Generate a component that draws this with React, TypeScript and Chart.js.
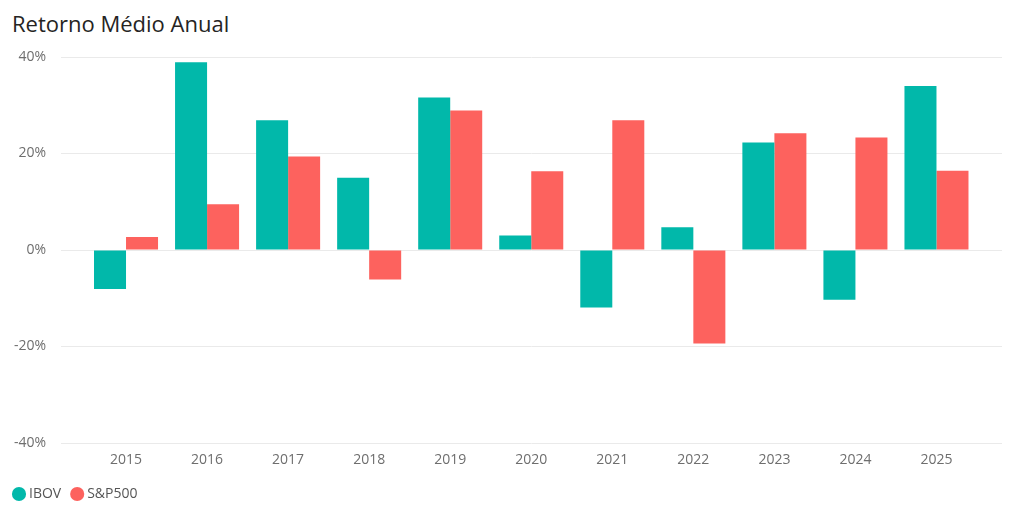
import React, { useEffect, useRef } from "react";
import { Chart, registerables } from "chart.js";

Chart.register(...registerables);

const TITLE = "Retorno Médio Anual";
const YEARS = ["2015", "2016", "2017", "2018", "2019", "2020", "2021", "2022", "2023", "2024", "2025"];
const IBOV = [-8.1, 38.9, 26.9, 15.0, 31.6, 3.0, -11.9, 4.7, 22.3, -10.3, 34.0];
const SP500 = [2.7, 9.5, 19.4, -6.1, 28.9, 16.3, 26.9, -19.4, 24.2, 23.3, 16.4];
const SERIES_NAMES = ["IBOV", "S&P500"];
const SERIES_COLORS = ["#01B8AA", "#FD625E"];
const Y_MIN = -40;
const Y_MAX = 40;
const Y_STEP = 20;

const FONT = "'Open Sans', 'Noto Sans', sans-serif";

const categoryInset = {
  id: "categoryInset",
  afterLayout(chart: any) {
    const x = chart.scales.x;
    x.left += 24.5;
    x.right -= 25;
    x.width = x.right - x.left;
    x.configure();
  },
};

export default function App() {
  const ref = useRef<HTMLCanvasElement | null>(null);

  useEffect(() => {
    document.body.style.margin = "0";
    if (!ref.current) return;
    Chart.defaults.font.family = FONT;
    const chart = new Chart(ref.current, {
      type: "bar",
      data: {
        labels: YEARS,
        datasets: [
          {
            label: SERIES_NAMES[0],
            data: IBOV,
            backgroundColor: SERIES_COLORS[0],
            borderWidth: 0,
            barPercentage: 1,
            categoryPercentage: 0.79,
          },
          {
            label: SERIES_NAMES[1],
            data: SP500,
            backgroundColor: SERIES_COLORS[1],
            borderWidth: 0,
            barPercentage: 1,
            categoryPercentage: 0.79,
          },
        ],
      },
      options: {
        animation: false,
        responsive: true,
        maintainAspectRatio: false,
        layout: { padding: { top: 57, left: 3, right: 22, bottom: 2 } },
        plugins: {
          title: { display: false },
          tooltip: { enabled: false },
          legend: {
            position: "bottom",
            align: "start",
            labels: {
              usePointStyle: true,
              pointStyle: "circle",
              boxWidth: 6,
              boxHeight: 10,
              padding: 13,
              color: "#555555",
              font: { size: 14, family: FONT },
            },
          },
        },
        scales: {
          x: {
            grid: { display: false },
            border: { display: false },
            ticks: { color: "#6E6E6E", font: { size: 14, family: FONT }, padding: 1, maxRotation: 0 },
            afterFit: (s: any) => {
              s.height = 31;
            },
          },
          y: {
            min: Y_MIN,
            max: Y_MAX,
            border: { display: false },
            grid: { color: "#EAEAEA", lineWidth: 1, drawTicks: false },
            ticks: {
              stepSize: Y_STEP,
              color: "#6E6E6E",
              padding: 15,
              font: { size: 14, family: FONT },
              callback: (v: any) => `${v}%`,
            },
            afterFit: (s: any) => {
              s.width = 58;
            },
          },
        },
      },
      plugins: [categoryInset],
    });
    return () => chart.destroy();
  }, []);

  return (
    <div style={{ position: "absolute", left: 0, top: 0, width: 1024, height: 513, background: "#fff" }}>
      <div
        style={{
          position: "absolute",
          left: 12,
          top: 12,
          fontFamily: FONT,
          fontSize: 22,
          lineHeight: "22px",
          color: "#252423",
          whiteSpace: "nowrap",
        }}
      >
        {TITLE}
      </div>
      <canvas ref={ref} style={{ position: "absolute", left: 0, top: 0, width: 1024, height: 513 }} />
    </div>
  );
}
